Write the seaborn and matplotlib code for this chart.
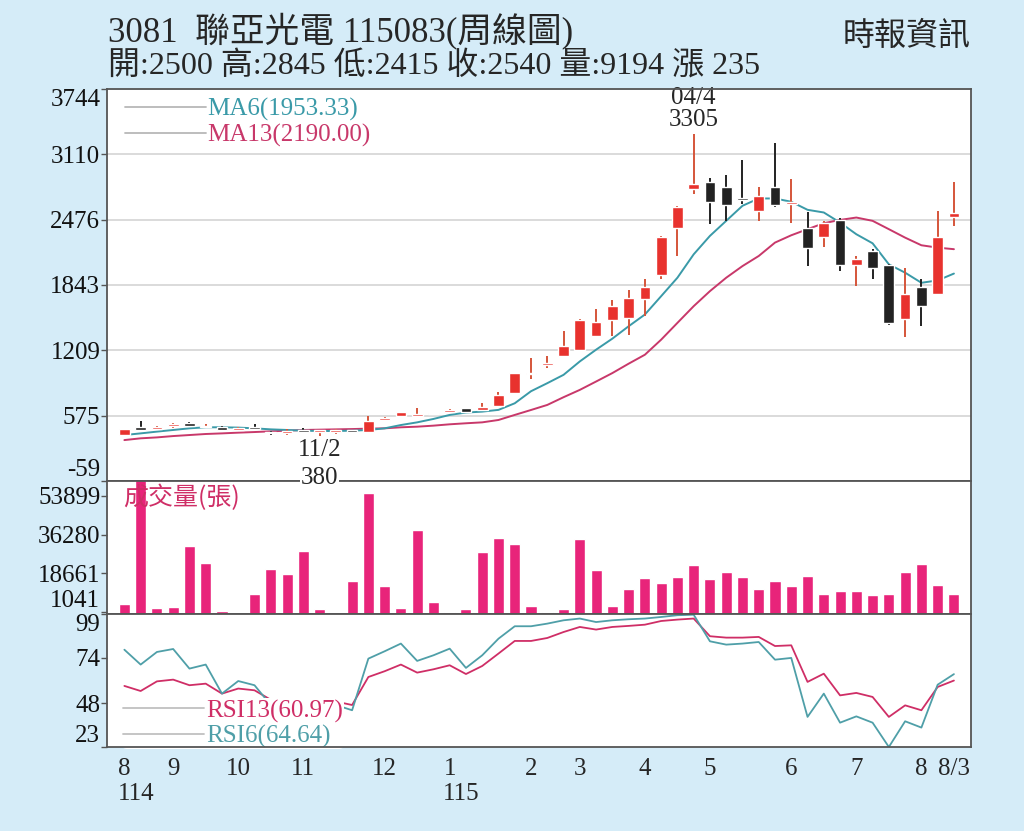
import numpy as np
import pandas as pd
import seaborn as sns
from matplotlib import pyplot as plt
from matplotlib.lines import Line2D
from matplotlib.transforms import blended_transform_factory

sns.set_style('white')
plt.rcParams['font.family'] = ['Liberation Serif', 'Noto Sans CJK TC', 'DejaVu Sans']
plt.rcParams['axes.unicode_minus'] = False

# weekly data, 52 weeks (114/8 .. 115/8/3)
week = list(range(52))
opens = [384, 462, 445, 478, 500, 465, 468, 437, 460, 420, 412, 430, 425, 420, 435, 420,
         535, 572, 580, 590, 608, 647, 625, 669, 795, 975, 1065, 1150, 1215, 1351, 1501, 1523,
         1702, 1936, 2393, 2773, 2844, 2796, 2680, 2556, 2789, 2625, 2393, 2309, 2474, 2033,
         2172, 2033, 1514, 1825, 1757, 2500]
highs = [450, 527, 472, 500, 510, 490, 475, 465, 490, 425, 445, 460, 440, 450, 440, 572,
         565, 612, 647, 605, 640, 652, 695, 802, 990, 1133, 1150, 1393, 1510, 1611, 1695, 1793,
         1903, 2320, 2610, 3305, 2877, 2909, 3059, 2789, 3221, 2870, 2552, 2465, 2497, 2124,
         2189, 2043, 2010, 1897, 2562, 2845]
lows = [382, 426, 440, 452, 462, 452, 425, 430, 452, 385, 385, 405, 380, 400, 408, 415,
        520, 565, 575, 588, 600, 605, 618, 665, 788, 929, 1036, 1140, 1205, 1345, 1345, 1361,
        1546, 1903, 2124, 2724, 2432, 2465, 2627, 2465, 2595, 2448, 2026, 2212, 1978, 1832,
        1897, 1458, 1338, 1449, 1741, 2415]
closes = [445, 432, 468, 488, 470, 472, 440, 460, 455, 405, 420, 425, 430, 430, 415, 527,
          556, 608, 585, 600, 630, 612, 656, 776, 985, 990, 1082, 1247, 1500, 1481, 1637, 1718,
          1825, 2310, 2601, 2819, 2643, 2621, 2672, 2708, 2617, 2650, 2198, 2442, 2036, 2098,
          2010, 1474, 1760, 1637, 2305, 2540]
volume = [4430, 61000, 2900, 3330, 31200, 23150, 1400, 300, 9000, 20400, 18400, 28800, 2150,
          600, 15100, 55100, 12800, 2750, 38500, 5500, 1050, 2300, 28300, 34600, 32000, 3650,
          900, 2450, 34100, 20250, 3650, 11400, 16300, 14000, 16900, 22400, 15850, 19200, 16750,
          11400, 15200, 12650, 17350, 9300, 10500, 10500, 8700, 9000, 19050, 22850, 13100, 9194]
ma6 = [387, 403, 420, 436, 452, 462, 462, 459, 452, 442, 436, 429, 426, 426, 429, 436, 452,
       484, 510, 543, 582, 605, 614, 631, 695, 812, 890, 971, 1101, 1215, 1322, 1442, 1556,
       1734, 1913, 2140, 2319, 2465, 2611, 2682, 2682, 2650, 2572, 2546, 2448, 2335, 2247,
       2043, 1962, 1864, 1887, 1953.33]
ma13 = [338, 355, 364, 377, 387, 397, 403, 410, 416, 423, 429, 436, 439, 442, 445, 449, 452,
        462, 468, 478, 491, 501, 510, 533, 582, 630, 679, 754, 825, 906, 988, 1079, 1166, 1312,
        1475, 1637, 1783, 1913, 2026, 2124, 2254, 2325, 2384, 2442, 2474, 2497, 2465, 2384,
        2302, 2228, 2205, 2190.00]
rsi6 = [78.6, 70.1, 77.3, 79.0, 67.8, 70.1, 53.5, 60.7, 58.3, 47, 45, 46, 46, 47, 44.0, 73.5,
        77.7, 82.1, 72.2, 75.4, 79.2, 68.2, 75.4, 84.9, 92.0, 92.0, 93.5, 95.4, 96.4, 94.4, 95.4,
        96.0, 96.4, 97.3, 98.3, 98.6, 83.4, 81.5, 82.1, 83.0, 72.9, 73.9, 40.2, 53.5, 36.9, 40.5,
        36.9, 23.0, 37.7, 34.1, 58.6, 64.64]
rsi13 = [57.9, 55.0, 60.5, 61.5, 58.3, 59.2, 53.5, 56.4, 55.4, 50, 48, 49, 49, 49, 47.0, 63.0,
         66.3, 70.1, 65.5, 67.4, 69.7, 64.7, 69.3, 76.4, 83.6, 83.6, 85.3, 88.7, 91.6, 90.1, 91.6,
         92.2, 92.9, 95.0, 95.8, 96.4, 86.3, 85.5, 85.5, 85.9, 80.7, 81.1, 60.2, 64.9, 52.5, 53.9,
         51.6, 40.2, 46.8, 44.0, 57.3, 60.97]

month_pos = [0, 3, 7, 11, 16, 20, 25, 28, 32, 36, 41, 45, 49, 51]
month_labels = ['8', '9', '10', '11', '12', '1', '2', '3', '4', '5', '6', '7', '8', '8/3']
year_pos = [0, 20]
year_labels = ['114', '115']

price_ticks = [-59, 575, 1209, 1843, 2476, 3110, 3744]
vol_ticks = [1041, 18661, 36280, 53899]
rsi_ticks = [23, 48, 74, 99]

BG = '#d5ecf8'
RED = '#e8322e'
BLACK = '#222222'
MA6_C = '#3a9aa8'
MA13_C = '#c8386a'
VOL_C = '#e8247a'
RSI6_C = '#4f9fa8'
RSI13_C = '#cf2e66'
SPINE = '#555555'

df = pd.DataFrame({'week': week, 'open': opens, 'high': highs, 'low': lows,
                   'close': closes, 'volume': volume, 'ma6': ma6, 'ma13': ma13,
                   'rsi6': rsi6, 'rsi13': rsi13})

fig = plt.figure(figsize=(10.24, 8.31), dpi=100)
fig.patch.set_facecolor(BG)

L, W = 107.3 / 1024, 863.7 / 1024
ax_p = fig.add_axes([L, 1 - 481 / 831, W, 392 / 831])
ax_v = fig.add_axes([L, 1 - 614 / 831, W, 133 / 831])
ax_r = fig.add_axes([L, 1 - 747 / 831, W, 133 / 831])

# ---- price panel
sns.lineplot(data=df, x='week', y='ma13', ax=ax_p, color=MA13_C, lw=1.4, zorder=2)
sns.lineplot(data=df, x='week', y='ma6', ax=ax_p, color=MA6_C, lw=1.4, zorder=2)

up = df['close'] >= df['open']
body = (df['close'] - df['open']).abs().clip(lower=16)
mid = (df['close'] + df['open']) / 2
ax_p.vlines(df['week'], df['low'], df['high'], colors=np.where(up, '#d5553a', BLACK), lw=1.4, zorder=3)
ax_p.bar(df['week'], body, bottom=mid - body / 2, width=0.66,
         color=np.where(up, RED, BLACK), zorder=4)

ax_p.set_ylim(price_ticks[0], price_ticks[-1])
ax_p.set_yticks(price_ticks, [str(t) for t in price_ticks])
ax_p.grid(axis='y', color='#d4d4d4', lw=1.2)

peak = df['high'].idxmax()
ax_p.text(peak, 3660, '04/4', ha='center', va='center', fontsize=18)
ax_p.text(peak, 3440, str(df['high'].max()), ha='center', va='center', fontsize=18)
low_i = df['low'].idxmin()
ax_p.text(low_i, 241, '11/2', ha='center', va='center', fontsize=18)
fig.text(low_i, -32, str(df['low'].min()), ha='center', va='center', fontsize=18,
         transform=ax_p.transData, bbox=dict(fc='white', ec='none', pad=0.5), zorder=10)

leg = ax_p.legend([Line2D([], [], color='#b8b8b8', lw=1.3)] * 2,
                  ['MA6(%.2f)' % ma6[-1], 'MA13(%.2f)' % ma13[-1]],
                  loc='upper left', bbox_to_anchor=(0.009, 1.002), frameon=False, fontsize=18,
                  handlelength=3.25, handletextpad=0.05, labelspacing=0.1, borderaxespad=0)
for t, c in zip(leg.get_texts(), [MA6_C, MA13_C]):
    t.set_color(c)

# ---- volume panel
sns.barplot(data=df, x='week', y='volume', ax=ax_v, color=VOL_C, saturation=1,
            width=0.68, native_scale=True, zorder=2)
ax_v.set_ylim(0, 60750)
ax_v.set_yticks(vol_ticks, [str(t) for t in vol_ticks])
ax_v.text(0.018, 0.87, '成交量(張)', transform=ax_v.transAxes, color=RSI13_C,
          fontsize=18, va='center', ha='left', family=['Noto Sans CJK TC'])

# ---- RSI panel
sns.lineplot(data=df, x='week', y='rsi13', ax=ax_r, color=RSI13_C, lw=1.3)
sns.lineplot(data=df, x='week', y='rsi6', ax=ax_r, color=RSI6_C, lw=1.3)
ax_r.set_ylim(rsi_ticks[0], rsi_ticks[-1])
ax_r.set_yticks(rsi_ticks, [str(t) for t in rsi_ticks])
leg2 = ax_r.legend([Line2D([], [], color='#c0c0c0', lw=1.3)] * 2,
                   ['RSI13(%.2f)' % rsi13[-1], 'RSI6(%.2f)' % rsi6[-1]],
                   loc='lower left', bbox_to_anchor=(0.017, -0.018), frameon=True,
                   facecolor='white', edgecolor='none', framealpha=1, fontsize=18,
                   handlelength=3.25, handletextpad=0.05, labelspacing=0.1,
                   borderaxespad=0, borderpad=0.05)
for t, c in zip(leg2.get_texts(), [RSI13_C, RSI6_C]):
    t.set_color(c)

ax_r.set_xticks(month_pos, month_labels)
ax_r.set_xticks(week, minor=True)
ax_r.tick_params(axis='x', which='major', length=7, width=1.2, color=SPINE, pad=1, labelsize=18)
ax_r.tick_params(axis='x', which='minor', length=3.5, width=1, color=SPINE)
trans = blended_transform_factory(ax_r.transData, ax_r.transAxes)
for p, lab in zip(year_pos, year_labels):
    ax_r.text(p - 0.4, -0.35, lab, transform=trans, ha='left', va='center', fontsize=18)

# ---- shared styling
for ax in (ax_p, ax_v, ax_r):
    ax.set_xlim(-1.05, 52.05)
    ax.set_xlabel('')
    ax.set_ylabel('')
    ax.set_facecolor('white')
    ax.tick_params(axis='y', which='major', left=True, length=4, width=1, color=SPINE,
                   pad=1, labelsize=18, labelcolor='#111111')
    for s in ax.spines.values():
        s.set_color(SPINE)
        s.set_linewidth(1.3)
        s.set_zorder(6)
for ax in (ax_p, ax_v):
    ax.set_xticks([])

for ax in (ax_p, ax_v, ax_r):
    labs = ax.get_yticklabels()
    if ax is not ax_v:
        labs[-1].set_va('top')
    labs[0].set_va('bottom')

fig.text(108 / 1024, 1 - 31 / 831, '3081  聯亞光電 115083(周線圖)', fontsize=25,
         va='center', ha='left')
fig.text(108 / 1024, 1 - 67 / 831, '開:2500 高:2845 低:2415 收:2540 量:9194 漲 235',
         fontsize=23, va='center', ha='left')
fig.text(971 / 1024, 1 - 37 / 831, '時報資訊', fontsize=23, va='center', ha='right')

fig.savefig('out.png', dpi=100, facecolor=BG)
